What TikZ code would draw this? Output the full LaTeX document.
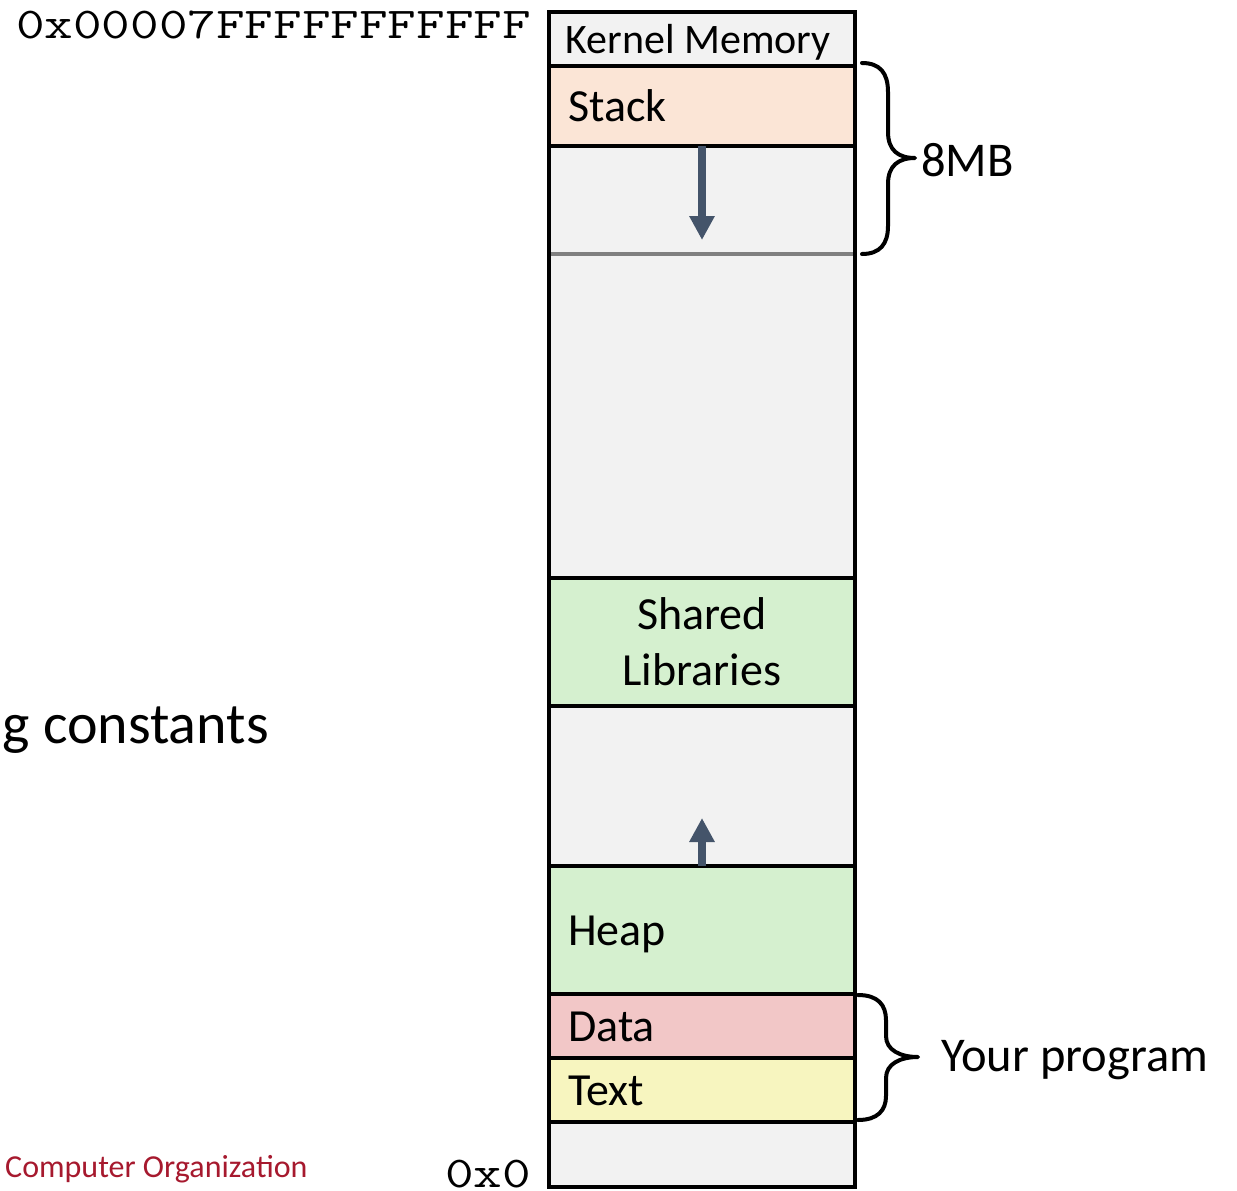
\documentclass[tikz,border=0pt]{standalone}
\usepackage{fontspec}
\usepackage{graphicx}
\setmainfont{Carlito}
\usetikzlibrary{arrows.meta}

\definecolor{emptyfill}{HTML}{F2F2F2}
\definecolor{stackfill}{HTML}{FBE5D6}
\definecolor{greenfill}{HTML}{D5F0CF}
\definecolor{datafill}{HTML}{F2C7C7}
\definecolor{textfill}{HTML}{F7F5BF}
\definecolor{growth}{HTML}{44546A}
\definecolor{limitgray}{HTML}{808080}
\definecolor{footer}{HTML}{A6192E}

% wide monospaced address text
\newcommand{\addrtext}[1]{\scalebox{1.262}[1]{#1}}

\begin{document}
\begin{tikzpicture}[x=1pt,y=-1pt,
  seg/.style={draw=black, line width=4pt, outer sep=0pt, anchor=north west,
    minimum width=306pt, inner sep=0pt},
  seglabel/.style={inner sep=0pt, anchor=base west, font=\fontsize{46}{56}\selectfont},
  growarrow/.style={draw=growth, line width=8pt,
    -{Triangle[width=24pt,length=24pt]}},
  bracepath/.style={draw=black, line width=4pt, line cap=round, line join=round},
  sidelabel/.style={inner sep=0pt, font=\fontsize{48.5}{56}\selectfont},
  addr/.style={inner sep=0pt, font=\fontsize{44}{50}\selectfont\ttfamily}
]
\useasboundingbox (0,0) rectangle (1237,1191);
\clip (0,0) rectangle (1237,1191);

% address-space segments, top to bottom
\node[seg, fill=emptyfill, minimum height=54pt] (kernel) at (549,12) {};
\node[seg, fill=stackfill, minimum height=80pt] (stack) at (kernel.south west) {};
\node[seg, fill=emptyfill, minimum height=432pt] (gapA) at (stack.south west) {};
\node[seg, fill=greenfill, minimum height=128pt] (shared) at (gapA.south west) {};
\node[seg, fill=emptyfill, minimum height=160pt] (gapB) at (shared.south west) {};
\node[seg, fill=greenfill, minimum height=128pt] (heap) at (gapB.south west) {};
\node[seg, fill=datafill, minimum height=64pt] (data) at (heap.south west) {};
\node[seg, fill=textfill, minimum height=64pt] (text) at (data.south west) {};
\node[seg, fill=emptyfill, minimum height=65pt] (bottom) at (text.south west) {};

% segment names
\node[inner sep=0pt, anchor=base, font=\fontsize{42}{50}\selectfont]
  (kernelname) at ([xshift=-4pt, yshift=-14pt]kernel.center) {Kernel Memory};
\node[seglabel] (stackname) at ([xshift=19pt, yshift=-15pt]stack.west) {Stack};
\node[inner sep=0pt, align=center, font=\fontsize{46}{56}\selectfont]
  (sharedname) at (shared.center) {Shared\\Libraries};
\node[seglabel] (heapname) at ([xshift=19pt, yshift=-15pt]heap.west) {Heap};
\node[seglabel] (dataname) at ([xshift=19pt, yshift=-15pt]data.west) {Data};
\node[seglabel] (textname) at ([xshift=19pt, yshift=-15pt]text.west) {Text};

% stack size limit
\coordinate (limitL) at (551,254);
\coordinate (limitR) at (853,254);
\draw[limitgray, line width=4.5pt] (limitL) -- (limitR);

% growth directions
\coordinate (stackEnd) at (702,240);
\coordinate (heapEnd) at (702,818);
\draw[growarrow] (stack.south) -- (stackEnd);
\draw[growarrow] (heap.north) -- (heapEnd);

% braces
\draw[bracepath] (862,63) .. controls (880,63) and (888,73) .. (888,92)
  -- (888,132) .. controls (888,150) and (898,158) .. (915,158)
  .. controls (898,158) and (888,166) .. (888,184)
  -- (888,226) .. controls (888,244) and (880,254) .. (862,254);
\node[sidelabel, anchor=west] (mb) at (921,160) {8MB};

\draw[bracepath] (858,995) .. controls (878,995) and (886,1005) .. (886,1020)
  -- (886,1036) .. controls (886,1050) and (900,1057) .. (918,1057)
  .. controls (900,1057) and (886,1064) .. (886,1078)
  -- (886,1096) .. controls (886,1110) and (878,1120) .. (858,1120);
\node[sidelabel, anchor=west] (prog) at (941,1060) {Your program};

% addresses
\node[addr, anchor=base east] (top) at (531,38) {\addrtext{0x00007FFFFFFFFFFF}};
\node[addr, anchor=base east] (zero) at (531,1187) {\addrtext{0x0}};

% surrounding text
\node[inner sep=0pt, anchor=base east, font=\fontsize{58}{64}\selectfont] (const) at (269,743) {g constants};
\node[inner sep=0pt, anchor=base west, text=footer, font=\fontsize{32}{36}\selectfont] (course) at (5,1177) {Computer Organization};
\end{tikzpicture}
\end{document}
